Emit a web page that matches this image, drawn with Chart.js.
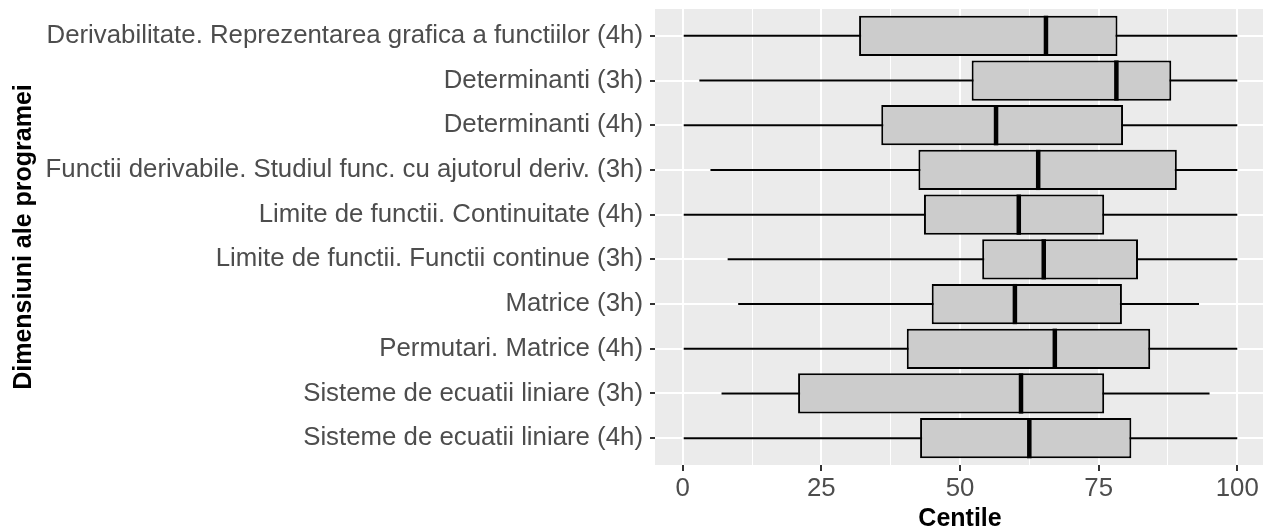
<!DOCTYPE html>
<html>
<head>
<meta charset="utf-8">
<script src="https://cdn.jsdelivr.net/npm/chart.js@4/dist/chart.umd.min.js"></script>
<style>
  html, body { margin: 0; padding: 0; background: #ffffff; overflow: hidden; }
  #chart { display: block; }
</style>
</head>
<body>
<!-- panel runs 2px past the right edge, like the clipped original -->
<canvas id="chart" width="1265" height="530"></canvas>
<script>
const CATEGORIES = [
  "Derivabilitate. Reprezentarea grafica a functiilor (4h)",
  "Determinanti (3h)",
  "Determinanti (4h)",
  "Functii derivabile. Studiul func. cu ajutorul deriv. (3h)",
  "Limite de functii. Continuitate (4h)",
  "Limite de functii. Functii continue (3h)",
  "Matrice (3h)",
  "Permutari. Matrice (4h)",
  "Sisteme de ecuatii liniare (3h)",
  "Sisteme de ecuatii liniare (4h)",
];
const WHISKER_LOW  = [0, 3.0, 0, 5.0, 0, 8.1, 10.0, 0, 7.0, 0];
const Q1           = [31.8, 52.1, 35.8, 42.5, 43.5, 54.0, 44.9, 40.4, 20.8, 42.8];
const MEDIAN       = [65.5, 78.2, 56.5, 64.1, 60.6, 65.1, 59.9, 67.1, 61.0, 62.5];
const Q3           = [78.4, 88.1, 79.4, 89.1, 76.0, 82.1, 79.2, 84.3, 76.0, 80.9];
const WHISKER_HIGH = [100, 100, 100, 100, 100, 100, 93.1, 100, 95.0, 100];

const X_MAJOR = [0, 25, 50, 75, 100];
const X_MINOR = [12.5, 37.5, 62.5, 87.5];

const FAMILY = '"Liberation Sans", Arial, sans-serif';
const TICK_FONT = { family: FAMILY, size: 25.8 };

const panelBackground = {
  id: "panelBackground",
  beforeDraw(chart) {
    const { ctx, chartArea: a } = chart;
    ctx.save();
    ctx.fillStyle = "#ebebeb";
    ctx.fillRect(a.left, a.top, a.right - a.left, a.bottom - a.top);
    ctx.restore();
  },
};

const isMajor = (v) => X_MAJOR.includes(v);

new Chart(document.getElementById("chart").getContext("2d"), {
  type: "bar",
  data: {
    datasets: [
      {
        label: "Median",
        type: "scatter",
        data: CATEGORIES.map((c, i) => ({ x: MEDIAN[i], y: i })),
        pointStyle: "line",
        rotation: 90,
        radius: (ctx) => {
          const y = ctx.chart.scales.y;
          return Math.abs(y.getPixelForValue(1) - y.getPixelForValue(0)) * 0.45;
        },
        borderColor: "#000000",
        borderWidth: 4.5,
        order: 1,
      },
      {
        label: "Box",
        grouped: false,
        data: CATEGORIES.map((c, i) => ({ y: i, x: [Q1[i], Q3[i]] })),
        backgroundColor: "#cccccc",
        borderColor: "#000000",
        borderWidth: 2,
        borderSkipped: false,
        categoryPercentage: 1,
        barPercentage: 0.9,
        order: 2,
      },
      {
        label: "Whisker",
        grouped: false,
        data: CATEGORIES.map((c, i) => ({ y: i, x: [WHISKER_LOW[i], WHISKER_HIGH[i]] })),
        backgroundColor: "#000000",
        borderWidth: 0,
        categoryPercentage: 1,
        barPercentage: 0.9,
        maxBarThickness: 2,
        order: 3,
      },
    ],
  },
  options: {
    indexAxis: "y",
    responsive: false,
    animation: false,
    devicePixelRatio: 1,
    layout: { padding: { top: 9, right: 0, left: 0, bottom: 0 } },
    plugins: {
      legend: { display: false },
      tooltip: { enabled: false },
    },
    scales: {
      x: {
        type: "linear",
        position: "bottom",
        min: -5,
        max: 105,
        offset: false,
        afterFit: (scale) => {
          scale.height = 65;
          scale.paddingLeft = 0;
          scale.paddingRight = 0;
        },
        afterBuildTicks: (scale) => {
          scale.ticks = [...X_MAJOR, ...X_MINOR].sort((a, b) => a - b).map((v) => ({ value: v }));
        },
        border: { display: false },
        grid: {
          offset: false,
          color: "#ffffff",
          lineWidth: (ctx) => (isMajor(ctx.tick?.value) ? 2 : 1),
          tickColor: (ctx) => (isMajor(ctx.tick?.value) ? "#333333" : "rgba(0,0,0,0)"),
          tickLength: 6,
          tickWidth: 2,
        },
        ticks: {
          autoSkip: false,
          maxRotation: 0,
          padding: 2,
          color: "#4d4d4d",
          font: TICK_FONT,
          callback: (v) => (isMajor(v) ? String(v) : ""),
        },
        title: {
          display: true,
          text: "Centile",
          color: "#000000",
          font: { family: FAMILY, size: 25, weight: "bold", lineHeight: 0.92 },
          padding: { top: 0, bottom: -1 },
        },
      },
      y: {
        type: "linear",
        position: "left",
        reverse: true,
        min: -0.6,
        max: 9.6,
        offset: false,
        afterFit: (scale) => {
          scale.width = 655;
          scale.paddingTop = 0;
          scale.paddingBottom = 0;
        },
        afterBuildTicks: (scale) => {
          scale.ticks = CATEGORIES.map((c, i) => ({ value: i }));
        },
        border: { display: false },
        grid: {
          offset: false,
          color: "#ffffff",
          lineWidth: 2,
          tickColor: "#333333",
          tickLength: 5,
          tickWidth: 2,
        },
        ticks: {
          autoSkip: false,
          padding: 7,
          color: "#4d4d4d",
          font: TICK_FONT,
          callback: (v) => CATEGORIES[v] ?? "",
        },
        title: {
          display: true,
          text: "Dimensiuni ale programei",
          color: "#000000",
          font: { family: FAMILY, size: 25, weight: "bold", lineHeight: 1.2 },
          padding: { top: 9, bottom: 0 },
        },
      },
    },
  },
  plugins: [panelBackground],
});
</script>
</body>
</html>
